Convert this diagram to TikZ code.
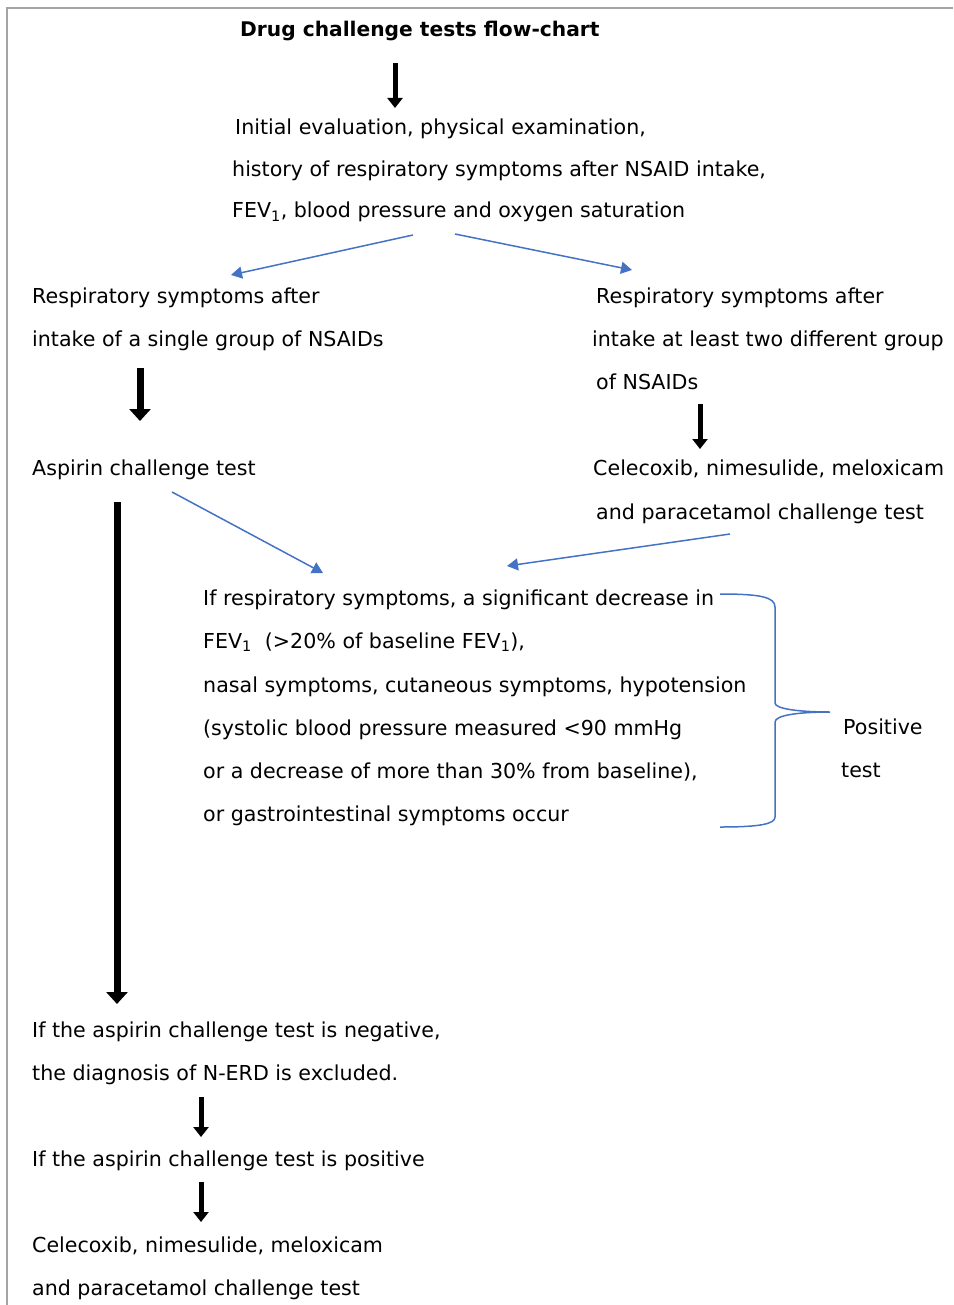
\documentclass[tikz,border=0pt]{standalone}
\usepackage{fontspec}
\setmainfont{DejaVu Sans}
\usetikzlibrary{arrows.meta}
\definecolor{arrblue}{RGB}{68,114,196}
\definecolor{framegray}{RGB}{165,165,165}

\begin{document}
\begin{tikzpicture}[x=1pt, y=-1pt,
  txt/.style = {anchor=base west, inner sep=0pt, font=\fontsize{20.6}{24}\selectfont},
  head/.style = {txt, font=\fontsize{20.2}{24}\selectfont\bfseries},
  bigarr/.style = {line width=7pt, -{Triangle[width=21pt, length=12pt]}},
  smallarr/.style = {line width=5pt, -{Triangle[width=15pt, length=10pt]}},
  bluearr/.style = {arrblue, line width=1.5pt, -{Triangle[width=12pt, length=11pt]}},
  brace/.style = {arrblue, line width=1.5pt}]
\useasboundingbox (0,0) rectangle (953,1305);
% frame
\draw[framegray, line width=2pt] (7,1305) -- (7,8) -- (953,8);

% texts
\node[head] (title) at (240,37) {Drug challenge tests flow-chart};
\node[txt] (init1) at (235,135) {Initial evaluation, physical examination,};
\node[txt] (init2) at (232,177) {history of respiratory symptoms after NSAID intake,};
\node[txt] (init3) at (232,218) {FEV\textsubscript{1}, blood pressure and oxygen saturation};
\node[txt] (single1) at (32,303) {Respiratory symptoms after};
\node[txt] (single2) at (32,346) {intake of a single group of NSAIDs};
\node[txt] (multi1) at (596,303) {Respiratory symptoms after};
\node[txt] (multi2) at (592,346) {intake at least two different group};
\node[txt] (multi3) at (596,389) {of NSAIDs};
\node[txt] (asp) at (32,475) {Aspirin challenge test};
\node[txt] (cel1) at (593,475) {Celecoxib, nimesulide, meloxicam};
\node[txt] (cel2) at (596,519) {and paracetamol challenge test};
\node[txt] (crit1) at (203,605) {If respiratory symptoms, a significant decrease in};
\node[txt] (crit2) at (203,648) {FEV\textsubscript{1}\ \ (>20\% of baseline FEV\textsubscript{1}),};
\node[txt] (crit3) at (203,692) {nasal symptoms, cutaneous symptoms, hypotension};
\node[txt] (crit4) at (203,735) {(systolic blood pressure measured <90 mmHg};
\node[txt] (crit5) at (203,778) {or a decrease of more than 30\% from baseline),};
\node[txt] (crit6) at (203,821) {or gastrointestinal symptoms occur};
\node[txt] (pos1) at (843,734) {Positive};
\node[txt] (pos2) at (841,777) {test};
\node[txt] (neg1) at (32,1037) {If the aspirin challenge test is negative,};
\node[txt] (neg2) at (32,1080) {the diagnosis of N-ERD is excluded.};
\node[txt] (posasp) at (32,1166) {If the aspirin challenge test is positive};
\node[txt] (fin1) at (32,1252) {Celecoxib, nimesulide, meloxicam};
\node[txt] (fin2) at (32,1295) {and paracetamol challenge test};

% arrow ends
\coordinate (t0) at (395,63);   \coordinate (t1) at (395,108);
\coordinate (s0) at (140,368);  \coordinate (s1) at (140,421);
\coordinate (m0) at (700,404);  \coordinate (m1) at (700,449);
\coordinate (a0) at (117,502);  \coordinate (a1) at (117,1004);
\coordinate (n0) at (201,1097); \coordinate (n1) at (201,1137);
\coordinate (p0) at (201,1182); \coordinate (p1) at (201,1222);
\coordinate (bl0) at (413,235); \coordinate (bl1) at (231,275);
\coordinate (br0) at (455,234); \coordinate (br1) at (632,270);
\coordinate (ba0) at (172,492); \coordinate (ba1) at (323,573);
\coordinate (bc0) at (730,534); \coordinate (bc1) at (507,566);

\draw[smallarr] (t0) -- (t1);
\draw[bigarr] (s0) -- (s1);
\draw[smallarr] (m0) -- (m1);
\draw[bigarr] (a0) -- (a1);
\draw[smallarr] (n0) -- (n1);
\draw[smallarr] (p0) -- (p1);
\draw[bluearr] (bl0) -- (bl1);
\draw[bluearr] (br0) -- (br1);
\draw[bluearr] (ba0) -- (ba1);
\draw[bluearr] (bc0) -- (bc1);

% brace
\draw[brace] (720,594) .. controls (760,594) and (775,597) .. (775,607) -- (775,703)
  .. controls (775,709) and (800,712) .. (830,712)
  .. controls (800,712) and (775,715) .. (775,722) -- (775,817)
  .. controls (775,824) and (760,827) .. (720,827);
\end{tikzpicture}
\end{document}
